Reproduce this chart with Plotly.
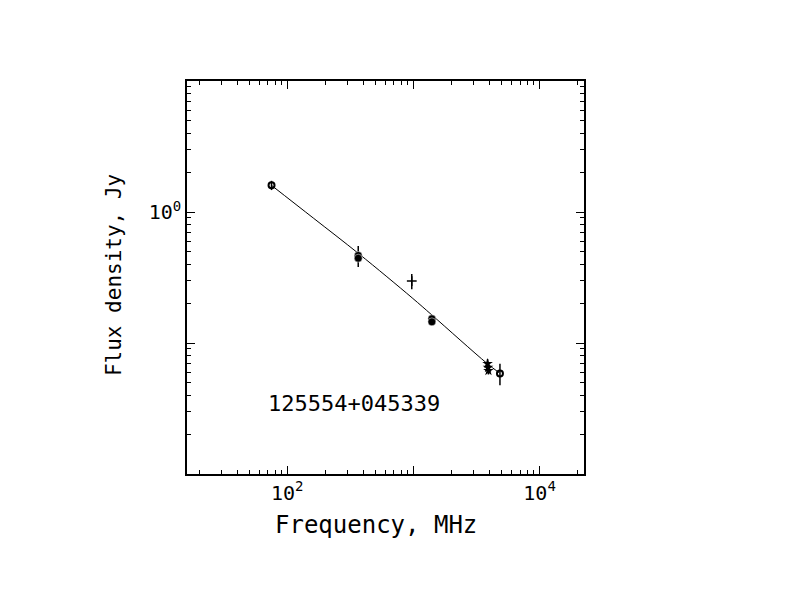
import plotly.graph_objects as go

# --- data (frequency in MHz, flux density in Jy) ---
open_freq = [75, 4850]
open_flux = [1.60, 0.0585]
open_err = [0.13, 0.011]

filled_freq = [365, 365, 1400, 1400]
filled_flux = [0.466, 0.444, 0.153, 0.145]
filled_err = [0.085, 0.0, 0.008, 0.0]

plus_freq = [970]
plus_flux = [0.297]
plus_err = [0.04]

star_freq = [3870, 3900, 3930]
star_flux = [0.0695, 0.0649, 0.0615]
star_err = [0.006, 0.004, 0.004]

# fitted spectrum, sampled along the drawn curve
fit_freq = [75, 162, 369, 977, 1406, 3802, 4775]
fit_flux = [1.596, 0.894, 0.480, 0.221, 0.163, 0.0703, 0.0593]

source_name = "125554+045339"
x_title = "Frequency, MHz"
y_title = "Flux density, Jy"

x_major = [100, 1000, 10000]
x_major_text = ["10<sup>2</sup>", "", "10<sup>4</sup>"]
y_major = [0.01, 0.1, 1, 10]
y_major_text = ["", "", "10<sup>0</sup>", ""]

x_minor = [m * 10 ** e for e in range(1, 5) for m in range(2, 10)]
y_minor = [m * 10 ** e for e in range(-2, 1) for m in range(2, 10)]

font_family = "DejaVu Sans Mono"


def err_bar(vals):
    return dict(type="data", array=vals, visible=True, color="black", thickness=1.5, width=0)


fig = go.Figure()

fig.add_trace(go.Scatter(
    x=fit_freq, y=fit_flux, mode="lines", line=dict(color="black", width=1, shape="spline"),
    hoverinfo="skip", showlegend=False,
))
fig.add_trace(go.Scatter(
    x=filled_freq, y=filled_flux, mode="markers", error_y=err_bar(filled_err),
    marker=dict(symbol="circle", size=8, color="black", line=dict(color="white", width=0.5)),
    showlegend=False,
))
fig.add_trace(go.Scatter(
    x=star_freq, y=star_flux, mode="markers", error_y=err_bar(star_err),
    marker=dict(symbol="star", size=8, color="black"),
    showlegend=False,
))
fig.add_trace(go.Scatter(
    x=plus_freq, y=plus_flux, mode="markers", error_y=err_bar(plus_err),
    marker=dict(symbol="cross-thin", size=7, line=dict(color="black", width=1.5)),
    showlegend=False,
))
fig.add_trace(go.Scatter(
    x=open_freq, y=open_flux, mode="markers", error_y=err_bar(open_err),
    marker=dict(symbol="circle-open", size=6, color="black", line=dict(color="black", width=2)),
    showlegend=False,
))

fig.add_annotation(
    x=0.2, y=0.18, xref="paper", yref="paper", text=source_name, showarrow=False,
    xanchor="left", yanchor="middle", font=dict(family=font_family, size=22, color="black"),
)
# axis titles placed as annotations to sit where the reference has them
fig.add_annotation(
    x=0.476, y=-0.13, xref="paper", yref="paper", text=x_title, showarrow=False,
    xanchor="center", yanchor="middle", font=dict(family=font_family, size=24, color="black"),
)
fig.add_annotation(
    x=-0.184, y=0.506, xref="paper", yref="paper", text=y_title, showarrow=False, textangle=-90,
    xanchor="center", yanchor="middle", font=dict(family=font_family, size=21, color="black"),
)

axis_common = dict(
    type="log", showgrid=False, zeroline=False, showline=True, linecolor="black", linewidth=1.5,
    mirror="allticks", ticks="inside", ticklen=8, tickwidth=1, tickcolor="black",
    tickmode="array", tickfont=dict(family=font_family, size=20, color="black"),
)

fig.update_xaxes(
    **axis_common, range=[1.205, 4.352], tickvals=x_major, ticktext=x_major_text,
    minor=dict(tickmode="array", tickvals=x_minor, ticks="inside", ticklen=4, tickcolor="black", showgrid=False),
)
fig.update_yaxes(
    **axis_common, range=[-2, 1], tickvals=y_major, ticktext=y_major_text,
    minor=dict(tickmode="array", tickvals=y_minor, ticks="inside", ticklen=4, tickcolor="black", showgrid=False),
)

# the page body adds an 8px offset, so margins are trimmed by that amount
fig.update_layout(
    width=792, height=612, autosize=False,
    margin=dict(l=179, r=216, t=73, b=146),
    paper_bgcolor="white", plot_bgcolor="white",
)

fig.write_html("out.html")
